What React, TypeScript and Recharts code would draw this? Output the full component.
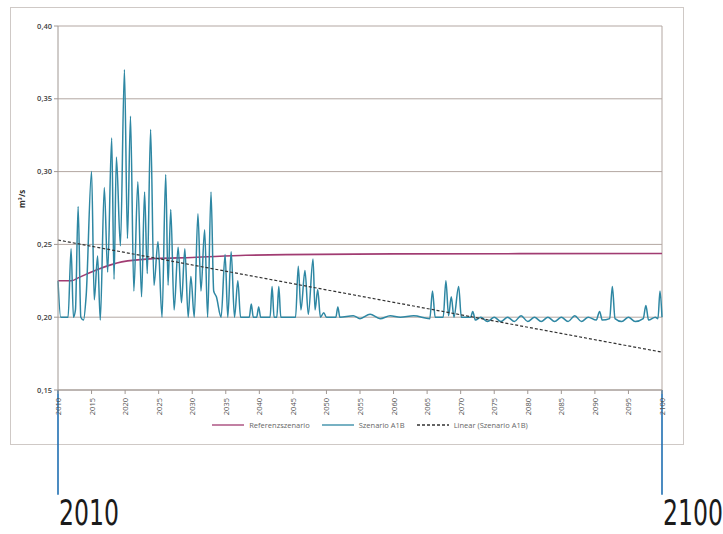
import React from "react";
import {
  LineChart,
  Line,
  XAxis,
  YAxis,
  CartesianGrid,
  Legend,
  ReferenceLine,
} from "recharts";

// Szenario A1B (m³/s)
const a1bYears = [
  2010.0, 2010.4, 2011.5, 2011.95, 2012.3, 2012.6, 2013.0, 2013.4, 2013.8, 2014.2,
  2015.0, 2015.4, 2015.9, 2016.3, 2016.9, 2017.4, 2018.0, 2018.35, 2018.7, 2019.3,
  2019.9, 2020.35, 2020.8, 2021.3, 2021.9, 2022.45, 2022.9, 2023.3, 2023.8, 2024.3,
  2024.9, 2025.5, 2026.05, 2026.4, 2026.8, 2027.3, 2027.9, 2028.4, 2028.9, 2029.4,
  2029.8, 2030.3, 2030.85, 2031.3, 2031.85, 2032.3, 2032.8, 2033.2, 2033.6, 2034.3,
  2034.9, 2035.3, 2035.8, 2036.3, 2036.8, 2037.2, 2038.5, 2038.8, 2039.1, 2039.6,
  2039.9, 2040.2, 2041.6, 2041.9, 2042.2, 2042.6, 2042.9, 2043.2, 2045.4, 2045.8,
  2046.2, 2046.8, 2047.3, 2048.0, 2048.3, 2048.7, 2049.1, 2049.6, 2050.0, 2051.4,
  2051.7, 2052.0, 2054.0, 2055.0, 2056.5, 2058.0, 2059.5, 2061.0, 2063.0, 2065.4,
  2065.8, 2066.2, 2067.4, 2067.8, 2068.2, 2068.6, 2069.0, 2069.7, 2070.1, 2071.5,
  2071.8, 2072.2, 2073, 2074, 2075, 2076, 2077, 2078, 2079, 2080,
  2081, 2082, 2083, 2084, 2085, 2086, 2087, 2088, 2089, 2090.2,
  2090.7, 2091.1, 2092.2, 2092.6, 2093.0, 2094, 2095, 2096, 2097.2, 2097.6,
  2098.0, 2099.0, 2099.4, 2099.7, 2100.0,
];
const a1bValues = [
  0.225, 0.2, 0.2, 0.247, 0.2, 0.205, 0.276, 0.2, 0.198, 0.215,
  0.3, 0.212, 0.242, 0.198, 0.289, 0.231, 0.323, 0.226, 0.31, 0.249,
  0.37, 0.254, 0.338, 0.218, 0.293, 0.214, 0.286, 0.23, 0.329, 0.222,
  0.252, 0.2, 0.298, 0.222, 0.274, 0.205, 0.248, 0.21, 0.247, 0.2,
  0.228, 0.2, 0.271, 0.218, 0.26, 0.2, 0.286, 0.218, 0.214, 0.2,
  0.243, 0.2, 0.245, 0.2, 0.225, 0.2, 0.2, 0.209, 0.2, 0.2,
  0.207, 0.2, 0.2, 0.221, 0.2, 0.2, 0.221, 0.2, 0.2, 0.235,
  0.205, 0.232, 0.202, 0.24, 0.205, 0.219, 0.2, 0.203, 0.2, 0.2,
  0.207, 0.2, 0.201, 0.199, 0.202, 0.199, 0.201, 0.2, 0.201, 0.199,
  0.218, 0.2, 0.2, 0.225, 0.201, 0.214, 0.2, 0.221, 0.2, 0.2,
  0.204, 0.198, 0.2, 0.197, 0.2, 0.197, 0.2, 0.197, 0.201, 0.197,
  0.2, 0.197, 0.2, 0.197, 0.2, 0.197, 0.201, 0.197, 0.2, 0.198,
  0.204, 0.198, 0.199, 0.221, 0.199, 0.197, 0.2, 0.197, 0.199, 0.208,
  0.198, 0.2, 0.199, 0.218, 0.2,
];

// Referenzszenario
const refYears = [2010, 2012, 2013, 2016, 2019.5, 2024.5, 2030, 2038, 2060, 2100];
const refValues = [0.225, 0.225, 0.227, 0.233, 0.238, 0.2403, 0.241, 0.2425, 0.2435, 0.2437];

// Linear (Szenario A1B)
const trendYears = [2010, 2100];
const trendValues = [0.253, 0.176];

const xTicks = [
  2010, 2015, 2020, 2025, 2030, 2035, 2040, 2045, 2050, 2055,
  2060, 2065, 2070, 2075, 2080, 2085, 2090, 2095, 2100,
];
const yTicks = [0.15, 0.2, 0.25, 0.3, 0.35, 0.4];

const markedYears = [2010, 2100];
const legendOrder = ["Referenzszenario", "Szenario A1B", "Linear (Szenario A1B)"];

const a1bData = a1bYears.map((year, i) => ({ year, value: a1bValues[i] }));
const refData = refYears.map((year, i) => ({ year, value: refValues[i] }));
const trendData = trendYears.map((year, i) => ({ year, value: trendValues[i] }));

const font = "'Open Sans', 'DejaVu Sans', sans-serif";

function YearTick(props: any) {
  const { x, y, payload } = props;
  return (
    <text
      x={x}
      y={y + 2}
      transform={`rotate(-90 ${x} ${y + 2})`}
      textAnchor="end"
      dominantBaseline="central"
      fontSize={7.5}
      fill="#555"
      fontFamily={font}
    >
      {payload.value}
    </text>
  );
}

// big year caption under the blue marker line; the last one is anchored at its right end
function BigYear(props: any) {
  const { viewBox, value, last } = props;
  if (!viewBox) return null;
  return (
    <text
      x={last ? viewBox.x + 61 : viewBox.x + 1}
      y={viewBox.y + viewBox.height + 30}
      textAnchor={last ? "end" : "start"}
      fontSize={35}
      fill="#1b1b1b"
      fontFamily="'Liberation Sans Narrow', 'DejaVu Sans Condensed', sans-serif"
      textLength={60}
      lengthAdjust="spacingAndGlyphs"
    >
      {value}
    </text>
  );
}

function LegendContent(props: any) {
  const items = [...(props.payload || [])].sort(
    (a: any, b: any) => legendOrder.indexOf(a.value) - legendOrder.indexOf(b.value)
  );
  return (
    <div style={{ display: "flex", justifyContent: "center", gap: 12 }}>
      {items.map((item: any) => (
        <div key={item.value} style={{ display: "flex", alignItems: "center", gap: 5 }}>
          <svg width={32} height={6}>
            <line
              x1={0}
              y1={3}
              x2={32}
              y2={3}
              stroke={item.color}
              strokeWidth={1.3}
              strokeDasharray={item.payload?.strokeDasharray}
            />
          </svg>
          <span style={{ color: "#666" }}>{item.value}</span>
        </div>
      ))}
    </div>
  );
}

export default function App() {
  return (
    <div style={{ position: "absolute", left: 0, top: 0, width: 723, height: 534, background: "#fff" }}>
      <div
        style={{
          position: "absolute",
          left: 10,
          top: 7,
          width: 672,
          height: 436,
          border: "1px solid #cfc9c6",
        }}
      />
      <div style={{ position: "absolute", left: 0, top: 0 }}>
        <LineChart width={723} height={534} margin={{ top: 26, right: 61, bottom: 94, left: 10 }}>
          <CartesianGrid vertical={false} stroke="#b3a7a2" strokeWidth={1} />
          <XAxis
            dataKey="year"
            type="number"
            domain={[2010, 2100]}
            ticks={xTicks}
            interval={0}
            height={30}
            tick={<YearTick />}
            tickSize={4}
            stroke="#a09893"
          />
          <YAxis
            type="number"
            domain={[0.15, 0.4]}
            ticks={yTicks}
            width={48}
            tickSize={4}
            stroke="#a09893"
            tick={{ fontSize: 7.5, fill: "#444", fontFamily: font, fontWeight: 600 }}
            tickFormatter={(v: number) => v.toFixed(2).replace(".", ",")}
            label={{
              value: "m³/s",
              angle: -90,
              position: "insideLeft",
              offset: 12,
              style: { fontSize: 8, fill: "#333", fontWeight: 700, fontFamily: font },
            }}
          />
          <ReferenceLine x={2100} stroke="#b3a7a2" />
          <Line
            data={refData}
            dataKey="value"
            name="Referenzszenario"
            type="monotone"
            stroke="#a13c72"
            strokeWidth={1.6}
            dot={false}
            isAnimationActive={false}
          />
          <Line
            data={a1bData}
            dataKey="value"
            name="Szenario A1B"
            type="monotone"
            stroke="#2e87a3"
            strokeWidth={1.5}
            dot={false}
            isAnimationActive={false}
          />
          <Line
            data={trendData}
            dataKey="value"
            name="Linear (Szenario A1B)"
            type="linear"
            stroke="#333"
            strokeWidth={1.2}
            strokeDasharray="3 2"
            dot={false}
            isAnimationActive={false}
          />
          {markedYears.map((yr, i) => (
            <ReferenceLine
              key={yr}
              segment={[
                { x: yr, y: 0.15 },
                { x: yr, y: 0.078 },
              ]}
              stroke="#1f6fb2"
              strokeWidth={1.6}
              ifOverflow="visible"
              label={<BigYear value={String(yr)} last={i === markedYears.length - 1} />}
            />
          ))}
          <Legend
            content={<LegendContent />}
            wrapperStyle={{
              position: "absolute",
              top: 420,
              left: 190,
              width: 360,
              height: 20,
              fontSize: 7.5,
              fontFamily: font,
            }}
          />
        </LineChart>
      </div>
    </div>
  );
}
